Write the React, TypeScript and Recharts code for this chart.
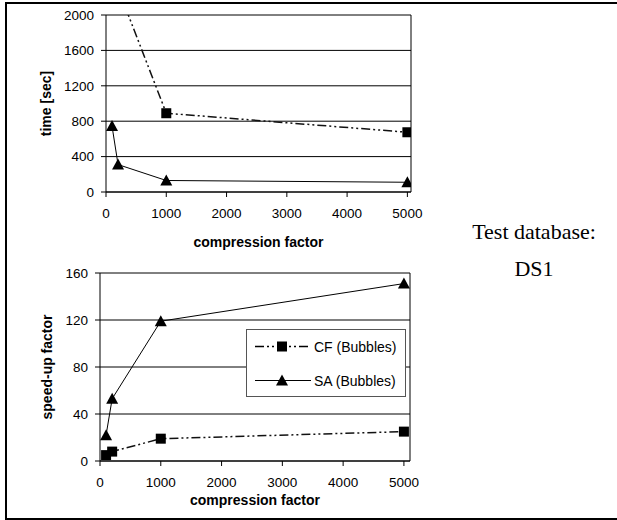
import React from 'react';
import { LineChart, Line, XAxis, YAxis, CartesianGrid, ReferenceLine, Legend, Label } from 'recharts';

// compression factor on x, two methods compared
const compression = [100, 200, 1000, 5000];
const timeCF = [3300, 2300, 890, 675];
const timeSA = [745, 310, 130, 110];
const speedCF = [5, 8, 19, 25];
const speedSA = [22, 53, 119, 151];
const xTicks = [0, 1000, 2000, 3000, 4000, 5000];
const timeTicks = [0, 400, 800, 1200, 1600, 2000];
const speedTicks = [0, 40, 80, 120, 160];
const seriesNames = ['CF (Bubbles)', 'SA (Bubbles)'];

const timeData = compression.map((c, i) => ({ c, cf: timeCF[i], sa: timeSA[i] }));
const speedData = compression.map((c, i) => ({ c, cf: speedCF[i], sa: speedSA[i] }));

const FONT = '"Liberation Sans", Arial, sans-serif';
const tickStyle = { fontSize: 13.5, fill: '#000', fontFamily: FONT };
const titleStyle = { fontSize: 14, fontWeight: 'bold', fill: '#000', fontFamily: FONT, textAnchor: 'middle' } as any;
const CF_DASH = '9 3 2 3 2 3';

const Square = ({ cx, cy }: { cx: number; cy: number }) => (
  <rect x={cx - 5} y={cy - 5} width={10} height={10} fill="#000" />
);
const Triangle = ({ cx, cy }: { cx: number; cy: number }) => (
  <polygon points={`${cx},${cy - 6} ${cx + 6},${cy + 5} ${cx - 6},${cy + 5}`} fill="#000" />
);

const makeDot = (max: number, Shape: any) => (props: any) => {
  if (props.value > max) return <g key={`d-${props.index}`} />;
  return <Shape key={`d-${props.index}`} cx={props.cx} cy={props.cy} />;
};

const LegendBox = () => (
  <div style={{ width: 160, height: 68, border: '1px solid #555', background: '#fff', boxSizing: 'border-box' }}>
    <svg width={158} height={66} style={{ display: 'block' }}>
      <line x1={8} x2={64} y1={16.5} y2={16.5} stroke="#000" strokeWidth={1.5} strokeDasharray={CF_DASH} />
      <Square cx={35} cy={16.5} />
      <text x={67} y={16.5} dy="0.36em" fontSize={14} fontFamily={FONT} fill="#000">{seriesNames[0]}</text>
      <line x1={8} x2={64} y1={50.5} y2={50.5} stroke="#000" strokeWidth={1} />
      <Triangle cx={35} cy={50.5} />
      <text x={67} y={50.5} dy="0.36em" fontSize={14} fontFamily={FONT} fill="#000">{seriesNames[1]}</text>
    </svg>
  </div>
);

export default function App() {
  return (
    <div style={{ position: 'absolute', left: 0, top: 0, width: 617, height: 520, background: '#fff' }}>
      <div style={{
        position: 'absolute', left: 5, top: 2, width: 612, height: 518, boxSizing: 'border-box',
        borderTop: '2px solid #000', borderLeft: '2px solid #000', borderBottom: '2px solid #000'
      }} />

      <div style={{ position: 'absolute', left: 0, top: 0 }}>
        <LineChart width={440} height={260} data={timeData} margin={{ top: 15, right: 29, left: 46, bottom: 13 }}>
          <CartesianGrid vertical={false} stroke="#000" />
          <XAxis dataKey="c" type="number" domain={[0, 5060]} ticks={xTicks} allowDataOverflow
            tickSize={5} tickMargin={11} height={55} tick={tickStyle}
            axisLine={{ stroke: '#000' }} tickLine={{ stroke: '#000' }}>
            <Label value="compression factor" position="insideBottom" offset={0} style={titleStyle} />
          </XAxis>
          <YAxis type="number" domain={[0, 2000]} ticks={timeTicks} allowDataOverflow width={60}
            tickSize={5} tickMargin={7} tick={tickStyle}
            axisLine={{ stroke: '#000' }} tickLine={{ stroke: '#000' }}>
            <Label value="time [sec]" angle={-90} position="insideLeft" offset={0} style={titleStyle} />
          </YAxis>
          <ReferenceLine x={5060} stroke="#000" />
          <Line type="linear" dataKey="cf" name={seriesNames[0]} stroke="#111" strokeWidth={1.5}
            strokeDasharray={CF_DASH} dot={makeDot(2000, Square)} activeDot={false} isAnimationActive={false} />
          <Line type="linear" dataKey="sa" name={seriesNames[1]} stroke="#000" strokeWidth={1}
            dot={makeDot(2000, Triangle)} activeDot={false} isAnimationActive={false} />
        </LineChart>
      </div>

      <div style={{ position: 'absolute', left: 0, top: 250 }}>
        <LineChart width={440} height={270} data={speedData} margin={{ top: 23, right: 30, left: 40, bottom: 15 }}>
          <CartesianGrid vertical={false} stroke="#000" />
          <XAxis dataKey="c" type="number" domain={[0, 5100]} ticks={xTicks} allowDataOverflow
            tickSize={5} tickMargin={11} height={44} tick={tickStyle}
            axisLine={{ stroke: '#000' }} tickLine={{ stroke: '#000' }}>
            <Label value="compression factor" position="insideBottom" offset={0} style={titleStyle} />
          </XAxis>
          <YAxis type="number" domain={[0, 160]} ticks={speedTicks} allowDataOverflow width={60}
            tickSize={5} tickMargin={7} tick={tickStyle}
            axisLine={{ stroke: '#000' }} tickLine={{ stroke: '#000' }}>
            <Label value="speed-up factor" angle={-90} position="insideLeft" offset={6.7} style={titleStyle} />
          </YAxis>
          <ReferenceLine x={5100} stroke="#000" />
          <Line type="linear" dataKey="cf" name={seriesNames[0]} stroke="#111" strokeWidth={1.5}
            strokeDasharray={CF_DASH} dot={makeDot(160, Square)} activeDot={false} isAnimationActive={false} />
          <Line type="linear" dataKey="sa" name={seriesNames[1]} stroke="#000" strokeWidth={1}
            dot={makeDot(160, Triangle)} activeDot={false} isAnimationActive={false} />
          <Legend layout="horizontal" verticalAlign="middle" align="center" content={() => <LegendBox />}
            wrapperStyle={{ top: 79, left: 246, width: 160, height: 68 }} />
        </LineChart>
      </div>

      <div style={{ position: 'absolute', left: 434, top: 220, width: 200, textAlign: 'center',
        fontFamily: '"Liberation Serif", "Times New Roman", serif', fontSize: 22, lineHeight: '24px', color: '#000' }}>
        Test database:
      </div>
      <div style={{ position: 'absolute', left: 434, top: 257, width: 200, textAlign: 'center',
        fontFamily: '"Liberation Serif", "Times New Roman", serif', fontSize: 22, lineHeight: '24px', color: '#000' }}>
        DS1
      </div>
    </div>
  );
}
